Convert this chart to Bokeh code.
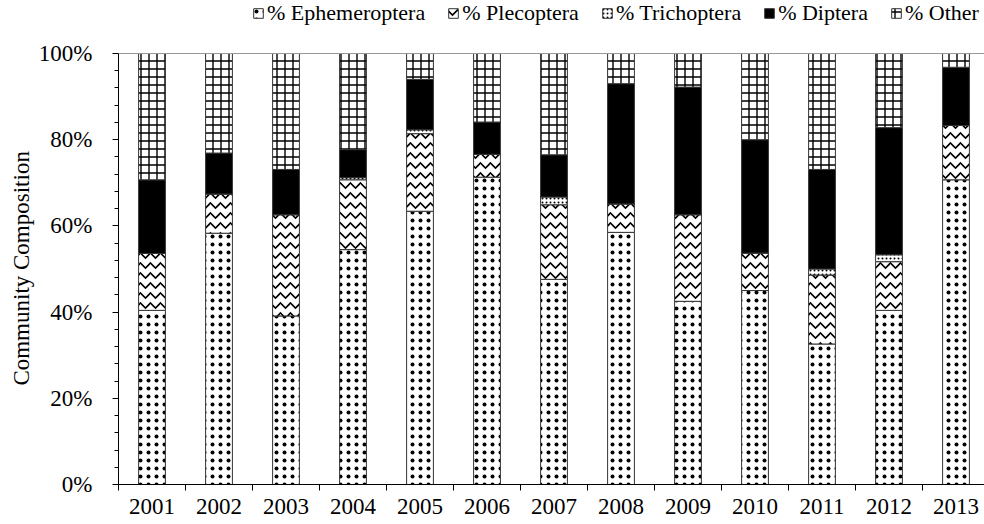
from bokeh.plotting import figure
from bokeh.models import ColumnDataSource, Range1d, FixedTicker, PrintfTickFormatter, Legend, Span
from bokeh.embed import file_html
from bokeh.resources import INLINE

years = [2001, 2002, 2003, 2004, 2005, 2006, 2007, 2008, 2009, 2010, 2011, 2012, 2013]
ephemeroptera = [40.4, 58.3, 39.1, 54.5, 63.4, 71.3, 47.6, 58.5, 42.5, 45.0, 32.6, 40.4, 70.7]
plecoptera = [13.2, 9.1, 23.5, 16.2, 18.0, 5.3, 17.3, 6.6, 20.1, 8.7, 16.0, 11.3, 12.6]
trichoptera = [0.0, 0.0, 0.0, 0.5, 0.9, 0.0, 1.8, 0.0, 0.0, 0.0, 1.4, 1.6, 0.0]
diptera = [17.1, 9.5, 10.5, 6.5, 11.7, 7.5, 9.8, 27.9, 29.6, 26.3, 23.1, 29.5, 13.5]
other = [29.3, 23.1, 26.9, 22.3, 6.0, 15.9, 23.5, 7.0, 7.8, 20.0, 26.9, 17.2, 3.2]

series = ["eph", "plec", "tri", "dip", "oth"]
labels = ["% Ephemeroptera", "% Plecoptera", "% Trichoptera", "% Diptera", "% Other"]
y_ticks = [0, 20, 40, 60, 80, 100]
y_title = "Community Composition"

src = ColumnDataSource(dict(year=years, eph=ephemeroptera, plec=plecoptera,
                            tri=trichoptera, dip=diptera, oth=other))

FONT = "Liberation Serif"

# frame: left at 118 px, bottom at 484 px; top of the frame holds the legend
W, H = 984, 524
LEFT, BOTTOM = 118, 40
frame_h = H - BOTTOM
plot_h = 431  # pixel height of 0..100 %
p = figure(width=W, height=H, output_backend="svg", toolbar_location=None,
           x_range=Range1d(2000.5, 2000.5 + (W - LEFT) / 67.0),
           y_range=Range1d(0, 100.0 * frame_h / plot_h),
           min_border_left=LEFT, min_border_right=0, min_border_top=0,
           min_border_bottom=BOTTOM)
p.outline_line_color = None
p.xgrid.visible = False
p.ygrid.visible = False

renderers = p.vbar_stack(series, x="year", width=0.4, source=src,
                         fill_color=["white", "white", "white", "black", "white"],
                         hatch_pattern=[".", "v", ".", " ", "+"],
                         hatch_color="black",
                         hatch_scale=[8, 10, 4, 10, 8],
                         hatch_weight=[1.2, 1.6, 1.3, 1, 1.4],
                         line_color="#333333", line_width=1)

p.add_layout(Span(location=100, dimension="width", line_color="#999999", line_width=1))

legend = Legend(items=[(lab, [r]) for lab, r in zip(labels, renderers)],
                orientation="horizontal", location=(134, frame_h - 26))
legend.label_text_font = FONT
legend.label_text_font_size = "22px"
legend.label_text_color = "black"
legend.label_standoff = 3
legend.glyph_width = 12
legend.glyph_height = 12
legend.spacing = 22
legend.padding = 0
legend.margin = 0
legend.border_line_color = None
legend.background_fill_alpha = 0
p.add_layout(legend)

# y axis (title padded with no-break spaces so it centres on the 0-100 % span)
p.yaxis.bounds = (0, 100)
p.yaxis.ticker = FixedTicker(ticks=y_ticks, minor_ticks=list(range(0, 101, 4)))
p.yaxis.formatter = PrintfTickFormatter(format="%d%%")
p.yaxis.axis_label = y_title + "\u00a0" * 9
p.yaxis.axis_label_text_font = FONT
p.yaxis.axis_label_text_font_size = "23px"
p.yaxis.axis_label_text_font_style = "normal"
p.yaxis.axis_label_text_color = "black"
p.yaxis.axis_label_standoff = 2
p.yaxis.major_label_text_font = FONT
p.yaxis.major_label_text_font_size = "23px"
p.yaxis.major_label_text_color = "black"
p.yaxis.major_label_standoff = 20
p.yaxis.major_tick_in = 0
p.yaxis.major_tick_out = 6
p.yaxis.minor_tick_in = 0
p.yaxis.minor_tick_out = 4
p.yaxis.axis_line_color = "black"
p.yaxis.major_tick_line_color = "black"
p.yaxis.minor_tick_line_color = "black"

# x axis
p.xaxis.ticker = FixedTicker(ticks=years, minor_ticks=[y - 0.5 for y in years])
p.xaxis.formatter = PrintfTickFormatter(format="%d")
p.xaxis.major_label_text_font = FONT
p.xaxis.major_label_text_font_size = "23px"
p.xaxis.major_label_text_color = "black"
p.xaxis.major_label_standoff = 8
p.xaxis.major_tick_in = 0
p.xaxis.major_tick_out = 0
p.xaxis.minor_tick_in = 0
p.xaxis.minor_tick_out = 6
p.xaxis.axis_line_color = "black"
p.xaxis.minor_tick_line_color = "black"

open("out.html", "w").write(file_html(p, INLINE))
